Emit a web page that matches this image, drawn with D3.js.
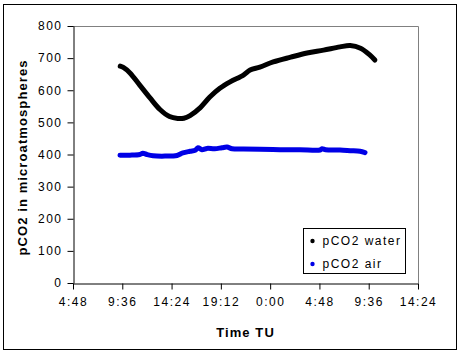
<html>
<head>
<meta charset="utf-8">
<title>pCO2</title>
<style>
  body { margin: 0; background: #fff; }
  text { font-family: "Liberation Sans", Arial, sans-serif; }
</style>
<script src="https://d3js.org/d3.v7.min.js"></script>
</head>
<body>
<svg width="460" height="353"></svg>
<script>
// time in hours since midnight of day 1 (values past 24 are the next day)
var waterTime = [9.4, 9.7, 10.35, 11.3, 12.3, 13.27, 14.2, 15.0, 15.6, 16.2, 17.2, 18.1, 19.1, 20.1, 21.4, 22.05, 23.0, 24.3, 26.0, 27.6, 29.2, 30.8, 31.8, 32.8, 33.7, 34.2];
var waterVal  = [675, 671, 654, 616, 576, 540, 518, 512, 513, 521, 546, 578, 606, 626, 647, 663, 672, 688, 703, 716, 725, 735, 739, 731, 710, 694];

var airTime = [9.38, 10.35, 11.3, 11.6, 12.0, 12.6, 13.76, 14.93, 15.5, 16.2, 16.7, 16.97, 17.36, 17.85, 18.6, 19.3, 19.8, 20.3, 21.4, 23.0, 24.96, 26.9, 28.86, 29.05, 29.4, 30.8, 31.8, 32.75, 33.24];
var airVal  = [398, 398, 400, 404, 400, 396, 395, 397, 405, 410, 413, 421, 415, 419, 418, 421, 423, 418, 417, 416, 415, 415, 414, 418, 415, 414, 412, 410, 406];

var xTicks = [4.8, 9.6, 14.4, 19.2, 24, 28.8, 33.6, 38.4];
var xTickLabels = ["4:48", "9:36", "14:24", "19:12", "0:00", "4:48", "9:36", "14:24"];
var yTicks = [0, 100, 200, 300, 400, 500, 600, 700, 800];

var seriesNames = ["pCO2 water", "pCO2 air"];
var seriesColors = ["#000000", "#0000e6"];

var svg = d3.select("svg");
var plotLeft = 73, plotRight = 418, plotTop = 26, plotBottom = 283;

// outer chart border
svg.append("rect")
    .attr("x", 3.5).attr("y", 4.5)
    .attr("width", 453).attr("height", 345)
    .attr("fill", "none").attr("stroke", "#000");

var x = d3.scaleLinear().domain([4.8, 38.4]).range([plotLeft, plotRight]);
var y = d3.scaleLinear().domain([0, 800]).range([plotBottom, plotTop]);

// gray plot frame (top and right)
svg.append("path")
    .attr("d", `M${plotLeft},${plotTop + 0.5}H${plotRight + 0.5}V${plotBottom}`)
    .attr("fill", "none").attr("stroke", "#808080");

var xAxis = svg.append("g")
    .attr("transform", `translate(0,${plotBottom + 0.5})`)
    .call(d3.axisBottom(x).tickValues(xTicks).tickFormat((d, i) => xTickLabels[i]).tickSize(6).tickSizeOuter(0));
xAxis.selectAll("text").attr("y", 18).attr("dy", "0.35em");

var yAxis = svg.append("g")
    .attr("transform", `translate(${plotLeft + 0.5},0)`)
    .call(d3.axisLeft(y).tickValues(yTicks).tickSize(6).tickSizeOuter(0).tickPadding(5));

svg.selectAll(".tick text")
    .style("font-size", "12px")
    .style("letter-spacing", "1.5px")
    .attr("fill", "#000");
svg.selectAll(".domain, .tick line").attr("stroke", "#000");

var line = d3.line()
    .x(d => x(d[0]))
    .y(d => y(d[1]))
    .curve(d3.curveCatmullRom);

var series = [d3.zip(waterTime, waterVal), d3.zip(airTime, airVal)];
series.forEach(function(s, i) {
  svg.append("path")
      .datum(s)
      .attr("d", line)
      .attr("fill", "none")
      .attr("stroke", seriesColors[i])
      .attr("stroke-width", 5)
      .attr("stroke-linecap", "round")
      .attr("stroke-linejoin", "round");
});

// axis titles
svg.append("text")
    .attr("x", (plotLeft + plotRight) / 2).attr("y", 337)
    .attr("text-anchor", "middle")
    .style("font-size", "13px").style("font-weight", "bold").style("letter-spacing", "1.1px")
    .text("Time TU");

svg.append("text")
    .attr("transform", `translate(27,${(plotTop + plotBottom) / 2 + 3}) rotate(-90)`)
    .attr("text-anchor", "middle")
    .style("font-size", "13px").style("font-weight", "bold").style("letter-spacing", "1.1px")
    .text("pCO2 in microatmospheres");

// legend
var legend = svg.append("g").attr("transform", "translate(303.5,228.5)");
legend.append("rect")
    .attr("width", 102).attr("height", 45)
    .attr("fill", "#fff").attr("stroke", "#000");
seriesNames.forEach(function(name, i) {
  var row = legend.append("g").attr("transform", `translate(0,${12.5 + i * 23})`);
  row.append("circle").attr("cx", 9).attr("cy", 0).attr("r", 2.2).attr("fill", seriesColors[i]);
  row.append("text")
      .attr("x", 19).attr("dy", "0.35em")
      .style("font-size", "12px").style("letter-spacing", "1.5px")
      .text(name);
});
</script>
</body>
</html>
